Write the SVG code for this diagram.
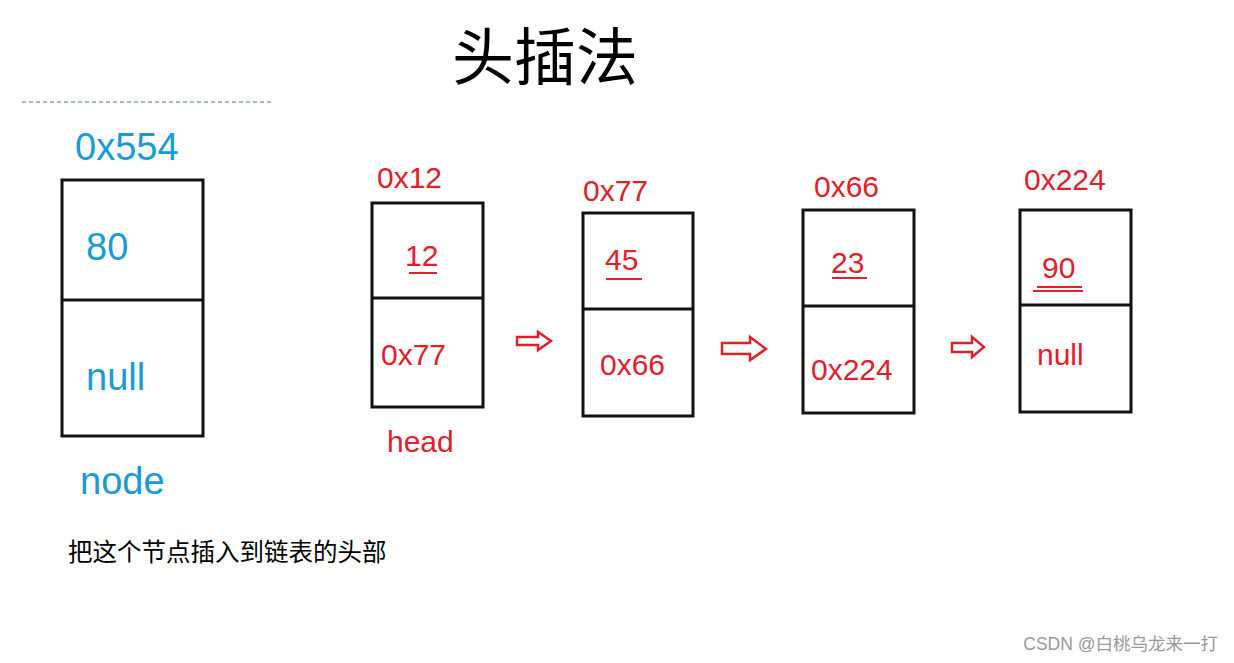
<svg xmlns="http://www.w3.org/2000/svg" width="1234" height="663" viewBox="0 0 1234 663">
<style>
.box{fill:none;stroke:#111;stroke-width:3}
.r{fill:#e0202a;font-family:"Liberation Sans",Arial,sans-serif;font-size:30px}
.b{fill:#1a9ad6;font-family:"Liberation Sans",Arial,sans-serif;font-size:38px}
.u{stroke:#e0202a;stroke-width:2}
.ar{fill:#fff;stroke:#e0202a;stroke-width:2.5}
</style>
<rect width="1234" height="663" fill="#fff"/>
<text x="545" y="80" font-family="Noto Sans CJK SC,sans-serif" font-size="62" text-anchor="middle" fill="#000">头插法</text>
<line x1="22" y1="102" x2="272" y2="102" stroke="#4a7a9a" stroke-width="1.2" stroke-dasharray="4,3"/>
<g id="node">
<text class="b" x="75" y="160">0x554</text>
<rect class="box" x="62" y="180" width="141" height="256"/>
<line class="box" x1="62" y1="300" x2="203" y2="300"/>
<text class="b" x="86" y="260">80</text>
<text class="b" x="86" y="390">null</text>
<text class="b" x="80" y="494">node</text>
</g>
<g id="n1">
<text class="r" x="377" y="188">0x12</text>
<rect class="box" x="372" y="203" width="111" height="204"/>
<line class="box" x1="372" y1="298" x2="483" y2="298"/>
<text class="r" x="405" y="266">12</text><line class="u" x1="409" y1="273" x2="437" y2="273"/>
<text class="r" x="381" y="365">0x77</text>
<text class="r" x="387" y="452">head</text>
</g>
<g id="n2">
<text class="r" x="583" y="201">0x77</text>
<rect class="box" x="583" y="213" width="110" height="203"/>
<line class="box" x1="583" y1="309" x2="693" y2="309"/>
<text class="r" x="605" y="270">45</text><line class="u" x1="606" y1="279" x2="642" y2="279"/>
<text class="r" x="600" y="375">0x66</text>
</g>
<g id="n3">
<text class="r" x="814" y="197">0x66</text>
<rect class="box" x="803" y="210" width="111" height="203"/>
<line class="box" x1="803" y1="306" x2="914" y2="306"/>
<text class="r" x="831" y="273">23</text><line class="u" x1="832" y1="278" x2="867" y2="278"/>
<text class="r" x="811" y="380">0x224</text>
</g>
<g id="n4">
<text class="r" x="1024" y="190">0x224</text>
<rect class="box" x="1020" y="210" width="111" height="202"/>
<line class="box" x1="1020" y1="305" x2="1131" y2="305"/>
<text class="r" x="1042" y="278">90</text><line class="u" x1="1033" y1="291" x2="1083" y2="291"/><line class="u" x1="1037" y1="287" x2="1082" y2="287"/>
<text class="r" x="1037" y="365">null</text>
</g>
<g id="connectors">
<polygon class="ar" points="517,337 538,337 538,332 551,341 538,350 538,345 517,345"/>
<polygon class="ar" points="722,343 750,343 750,337 766,349 750,360 750,354 722,354"/>
<polygon class="ar" points="952,343 972,343 972,337 984,347 972,357 972,352 952,352"/>
</g>
<text x="68" y="561" font-family="Noto Sans CJK SC,sans-serif" font-size="24.5" fill="#000">把这个节点插入到链表的头部</text>
<text x="1218" y="650" font-family="Liberation Sans,Noto Sans CJK SC,sans-serif" font-size="17.5" fill="#999" text-anchor="end">CSDN @白桃乌龙来一打</text>
</svg>
